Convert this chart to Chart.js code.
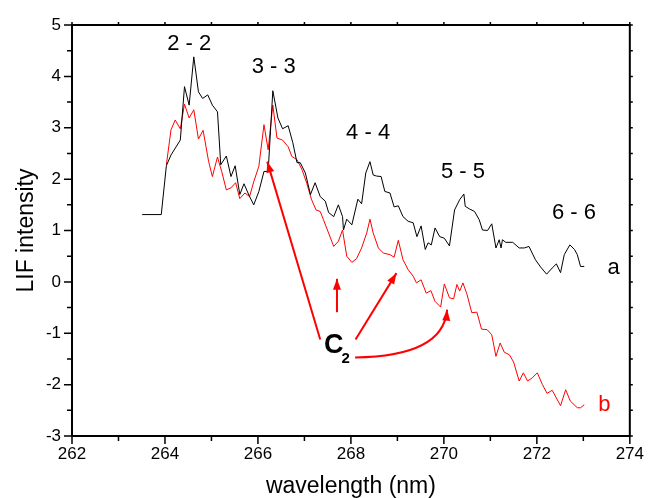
<!DOCTYPE html>
<html>
<head>
<meta charset="utf-8">
<script src="https://cdn.jsdelivr.net/npm/chart.js@4.4.0/dist/chart.umd.min.js"></script>
<style>
  body { margin: 0; background: #fff; }
  canvas { display: block; }
</style>
</head>
<body>
<canvas id="grafico" width="652" height="498"></canvas>
<script>
// curva a (preta)
const waveA = [263.51, 263.92, 264.03, 264.13, 264.33, 264.42, 264.52, 264.62, 264.72, 264.81,
  264.92, 265.02, 265.13, 265.20, 265.32, 265.42, 265.51, 265.61, 265.70, 265.81,
  265.91, 266.02, 266.13, 266.22, 266.32, 266.43, 266.53, 266.65, 266.75, 266.84,
  266.91, 267.02, 267.13, 267.23, 267.34, 267.45, 267.52, 267.63, 267.73, 267.82,
  267.84, 267.91, 268.02, 268.15, 268.23, 268.32, 268.41, 268.48, 268.55, 268.65,
  268.73, 268.84, 268.93, 269.02, 269.12, 269.23, 269.34, 269.42, 269.51, 269.60,
  269.66, 269.73, 269.81, 269.91, 270.01, 270.12, 270.23, 270.34, 270.43, 270.46,
  270.55, 270.66, 270.76, 270.83, 270.94, 271.03, 271.12, 271.19, 271.23, 271.26,
  271.33, 271.48, 271.62, 271.73, 271.83, 271.97, 272.08, 272.21, 272.33, 272.42,
  272.51, 272.59, 272.71, 272.81, 272.87, 272.94, 273.02];
const lifA = [1.31, 1.31, 2.26, 2.47, 2.76, 3.80, 3.44, 4.38, 3.70, 3.57,
  3.64, 3.44, 3.31, 2.28, 2.45, 2.05, 2.26, 1.70, 1.91, 1.68,
  1.50, 1.76, 2.15, 2.15, 3.72, 3.19, 2.98, 3.04, 2.71, 2.32,
  2.32, 2.12, 1.70, 1.93, 1.66, 1.57, 1.35, 1.27, 1.50, 1.27,
  1.01, 1.22, 1.11, 1.61, 1.52, 2.12, 2.34, 2.08, 2.06, 2.05,
  1.76, 1.73, 1.46, 1.48, 1.27, 1.18, 1.15, 0.88, 1.09, 0.63,
  0.76, 0.72, 1.05, 0.88, 0.85, 0.70, 1.40, 1.60, 1.71, 1.47,
  1.42, 1.37, 1.21, 1.01, 1.00, 1.13, 0.66, 0.82, 0.66, 0.82,
  0.77, 0.77, 0.66, 0.66, 0.69, 0.43, 0.29, 0.15, 0.27, 0.35,
  0.18, 0.53, 0.72, 0.63, 0.53, 0.30, 0.30];

// curva b (vermelha)
const waveB = [264.03, 264.13, 264.22, 264.33, 264.42, 264.52, 264.62, 264.72, 264.82, 264.94,
  265.02, 265.13, 265.22, 265.32, 265.42, 265.52, 265.61, 265.72, 265.82, 265.91,
  266.02, 266.13, 266.22, 266.32, 266.41, 266.53, 266.65, 266.73, 266.84, 266.95,
  267.05, 267.15, 267.25, 267.34, 267.41, 267.52, 267.63, 267.73, 267.82, 267.91,
  268.02, 268.12, 268.23, 268.34, 268.41, 268.48, 268.59, 268.70, 268.84, 268.93,
  269.02, 269.12, 269.23, 269.34, 269.41, 269.51, 269.62, 269.72, 269.81, 269.93,
  270.01, 270.12, 270.21, 270.28, 270.34, 270.41, 270.50, 270.60, 270.71, 270.81,
  270.93, 271.03, 271.12, 271.21, 271.30, 271.41, 271.50, 271.62, 271.71, 271.80,
  271.90, 272.01, 272.12, 272.22, 272.33, 272.51, 272.62, 272.72, 272.87, 272.94, 273.02];
const lifB = [2.28, 2.96, 3.15, 2.98, 3.46, 3.19, 3.35, 2.78, 2.95, 2.34,
  2.05, 2.43, 2.15, 1.79, 1.83, 1.93, 1.62, 1.73, 1.66, 1.95,
  2.25, 3.06, 2.57, 3.44, 2.80, 2.76, 2.63, 2.44, 2.38, 2.18,
  1.92, 1.61, 1.40, 1.37, 1.21, 0.95, 0.69, 0.79, 1.01, 0.50,
  0.38, 0.45, 0.66, 0.95, 1.22, 0.95, 0.66, 0.56, 0.53, 0.48,
  0.81, 0.43, 0.24, 0.11, -0.02, 0.04, -0.22, -0.17, -0.38, -0.49,
  -0.04, -0.31, -0.33, -0.05, -0.18, -0.02, -0.25, -0.60, -0.59, -0.92,
  -0.93, -1.03, -1.45, -1.19, -1.37, -1.42, -1.56, -1.93, -1.77, -1.93,
  -1.87, -1.77, -2.00, -2.17, -2.11, -2.41, -2.10, -2.32, -2.45, -2.45, -2.39];

const xTicks = [262, 264, 266, 268, 270, 272, 274];
const yTicks = [-3, -2, -1, 0, 1, 2, 3, 4, 5];

// rótulos das bandas e das curvas (coordenadas em unidades dos eixos)
const notas = [
  { text: '2 - 2', x: 264.52, y: 4.63, color: '#000' },
  { text: '3 - 3', x: 266.34, y: 4.18, color: '#000' },
  { text: '4 - 4', x: 268.37, y: 2.90, color: '#000' },
  { text: '5 - 5', x: 270.41, y: 2.14, color: '#000' },
  { text: '6 - 6', x: 272.80, y: 1.35, color: '#000' },
  { text: 'a', x: 273.65, y: 0.28, color: '#000' },
  { text: 'b', x: 273.45, y: -2.39, color: '#ff0000' }
];

// setas do C2
const setas = [
  { from: [267.34, -1.12], to: [266.20, 2.34] },
  { from: [267.70, -0.59], to: [267.70, 0.06] },
  { from: [268.10, -1.12], to: [268.98, 0.17] }
];
const setaCurva = { from: [268.09, -1.47], ctrl: [269.99, -1.45], to: [270.07, -0.54] };

const FONTE = '"Liberation Sans", Arial, sans-serif';

function ponta(ctx, x0, y0, x1, y1) {
  const ang = Math.atan2(y1 - y0, x1 - x0);
  const L = 11, W = 4;
  ctx.beginPath();
  ctx.moveTo(x1, y1);
  ctx.lineTo(x1 - L * Math.cos(ang) + W * Math.sin(ang), y1 - L * Math.sin(ang) - W * Math.cos(ang));
  ctx.lineTo(x1 - L * Math.cos(ang) - W * Math.sin(ang), y1 - L * Math.sin(ang) + W * Math.cos(ang));
  ctx.closePath();
  ctx.fill();
}

const moldura = {
  id: 'moldura',
  afterDraw(chart) {
    const { ctx, chartArea: a, scales: { x, y } } = chart;
    ctx.save();
    ctx.strokeStyle = '#000';
    ctx.lineWidth = 2;
    ctx.strokeRect(a.left, a.top, a.right - a.left, a.bottom - a.top);

    ctx.lineWidth = 1.5;
    ctx.beginPath();
    for (let v = xTicks[0]; v <= xTicks[xTicks.length - 1]; v += 1) {
      const px = x.getPixelForValue(v);
      const len = v % 2 === 0 ? 8 : 5;
      ctx.moveTo(px, a.bottom); ctx.lineTo(px, a.bottom + len);
      ctx.moveTo(px, a.top); ctx.lineTo(px, a.top - 3);
    }
    for (let v = yTicks[0]; v <= yTicks[yTicks.length - 1]; v += 0.5) {
      const py = y.getPixelForValue(v);
      const len = Number.isInteger(v) ? 8 : 5;
      ctx.moveTo(a.left, py); ctx.lineTo(a.left - len, py);
      ctx.moveTo(a.right, py); ctx.lineTo(a.right + 3, py);
    }
    ctx.stroke();

    // textos
    ctx.font = '22px ' + FONTE;
    ctx.textAlign = 'center';
    ctx.textBaseline = 'middle';
    notas.forEach(n => {
      ctx.fillStyle = n.color;
      ctx.fillText(n.text, x.getPixelForValue(n.x), y.getPixelForValue(n.y));
    });

    // C2
    const cx = x.getPixelForValue(267.63), cy = y.getPixelForValue(-1.24);
    ctx.fillStyle = '#000';
    ctx.font = 'bold 27px ' + FONTE;
    ctx.fillText('C', cx, cy);
    ctx.font = 'bold 15px ' + FONTE;
    ctx.fillText('2', cx + 12, cy + 13);

    // setas
    ctx.strokeStyle = '#ff0000';
    ctx.fillStyle = '#ff0000';
    ctx.lineWidth = 2;
    setas.forEach(s => {
      const x0 = x.getPixelForValue(s.from[0]), y0 = y.getPixelForValue(s.from[1]);
      const x1 = x.getPixelForValue(s.to[0]), y1 = y.getPixelForValue(s.to[1]);
      ctx.beginPath();
      ctx.moveTo(x0, y0); ctx.lineTo(x1, y1);
      ctx.stroke();
      ponta(ctx, x0, y0, x1, y1);
    });
    const q0x = x.getPixelForValue(setaCurva.from[0]), q0y = y.getPixelForValue(setaCurva.from[1]);
    const qcx = x.getPixelForValue(setaCurva.ctrl[0]), qcy = y.getPixelForValue(setaCurva.ctrl[1]);
    const q1x = x.getPixelForValue(setaCurva.to[0]), q1y = y.getPixelForValue(setaCurva.to[1]);
    ctx.beginPath();
    ctx.moveTo(q0x, q0y);
    ctx.quadraticCurveTo(qcx, qcy, q1x, q1y);
    ctx.stroke();
    ponta(ctx, qcx, qcy, q1x, q1y);
    ctx.restore();
  }
};

new Chart(document.getElementById('grafico'), {
  type: 'scatter',
  data: {
    datasets: [{
      label: 'a',
      data: waveA.map((w, i) => ({ x: w, y: lifA[i] })),
      showLine: true,
      borderColor: '#000',
      borderWidth: 1,
      pointRadius: 0,
      tension: 0
    }, {
      label: 'b',
      data: waveB.map((w, i) => ({ x: w, y: lifB[i] })),
      showLine: true,
      borderColor: '#ff0000',
      borderWidth: 1,
      pointRadius: 0,
      tension: 0
    }]
  },
  options: {
    responsive: false,
    animation: false,
    layout: { padding: { left: 0, right: 19, top: 25, bottom: 0 } },
    plugins: { legend: { display: false }, tooltip: { enabled: false } },
    scales: {
      x: {
        type: 'linear',
        min: 262,
        max: 274,
        afterBuildTicks: s => { s.ticks = xTicks.map(v => ({ value: v })); },
        afterFit: s => { s.height = 62; },
        grid: { display: false, drawTicks: false },
        border: { display: false },
        ticks: { color: '#000', padding: 8, maxRotation: 0, font: { family: FONTE, size: 17 } },
        title: {
          display: true,
          text: 'wavelength (nm)',
          color: '#000',
          padding: { top: 0, bottom: -2 },
          font: { family: FONTE, size: 23 }
        }
      },
      y: {
        min: -3,
        max: 5,
        afterBuildTicks: s => { s.ticks = yTicks.map(v => ({ value: v })); },
        afterFit: s => { s.width = 72; },
        grid: { display: false, drawTicks: false },
        border: { display: false },
        ticks: { color: '#000', padding: 11, font: { family: FONTE, size: 17 } },
        title: {
          display: true,
          text: 'LIF intensity',
          color: '#000',
          padding: { top: 13, bottom: 0 },
          font: { family: FONTE, size: 23 }
        }
      }
    }
  },
  plugins: [moldura]
});
</script>
</body>
</html>
